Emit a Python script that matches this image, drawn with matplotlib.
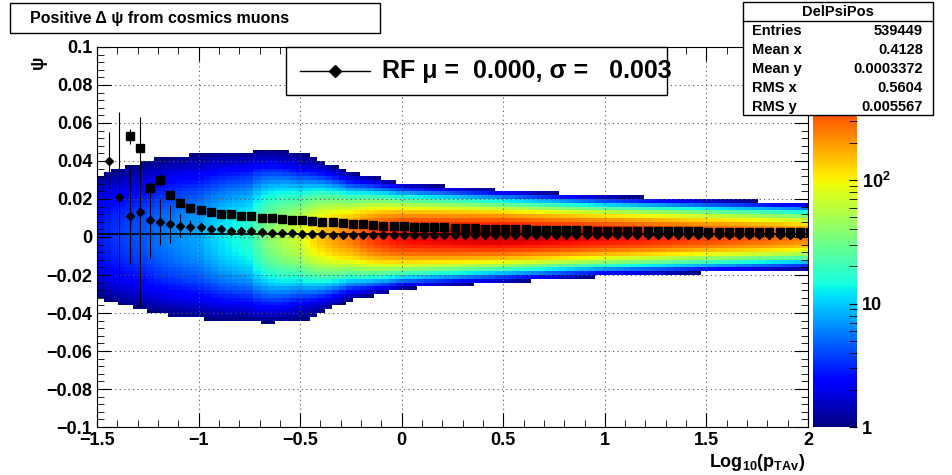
import numpy as np
import matplotlib
matplotlib.use("Agg")
import matplotlib.pyplot as plt
from matplotlib.colors import LogNorm
from matplotlib.patches import Rectangle
from matplotlib.ticker import MultipleLocator

plt.rcParams["font.family"] = ["Liberation Sans", "DejaVu Sans"]
plt.rcParams["mathtext.fontset"] = "custom"
plt.rcParams["mathtext.rm"] = "Liberation Sans:bold"
plt.rcParams["mathtext.it"] = "Liberation Sans:bold"

W, H = 953, 475
# per-column shape parameters
knot_x = [-1.5, -1.25, -1.0, -0.75, -0.5, -0.25, 0.0, 0.5, 1.0, 1.5, 2.0]
core_peak = [1.5, 3, 6, 15, 70, 250, 600, 750, 600, 400, 250]
core_sigma = [0.02, 0.02, 0.018, 0.016, 0.012, 0.009, 0.0075, 0.0065, 0.0058, 0.0055, 0.0052]
tail_amp = [1.3, 1.6, 1.8, 2.0, 2.8, 2.5, 2.2, 1.8, 1.5, 1.3, 1.2]
tail_sigma = [0.025, 0.028, 0.03, 0.03, 0.03, 0.022, 0.016, 0.013, 0.011, 0.01, 0.01]

sq_vals = [np.nan, np.nan, 0.053, 0.047, 0.026, 0.030, 0.022, 0.018, 0.015, 0.014, 0.013, 0.012, 0.012,
           0.011, 0.011, 0.010, 0.010, 0.0095, 0.009, 0.009, 0.0085, 0.008, 0.008, 0.0075, 0.007, 0.007,
           0.0065, 0.006, 0.006, 0.0058, 0.0055, 0.0053, 0.005, 0.005, 0.0048, 0.0046, 0.0045, 0.0044,
           0.0043, 0.0042, 0.004, 0.004, 0.0039, 0.0038, 0.0037, 0.0036, 0.0035, 0.0035, 0.0034, 0.0033,
           0.0033, 0.0032, 0.0032, 0.0031, 0.003, 0.003, 0.003, 0.0029, 0.0029, 0.0028, 0.0028, 0.0027,
           0.0027, 0.0026, 0.0026, 0.0025, 0.0025, 0.0025, 0.0024, 0.0024]
sq_err = [0, 0, 0.004, 0.004, 0.003, 0.003, 0.002, 0.0015, 0.001] + [0.0005] * 61
dm_vals = [0.040, 0.021, 0.011, 0.013, 0.009, 0.008, 0.007, 0.006, 0.005, 0.005, 0.004, 0.004, 0.003,
           0.003, 0.003, 0.0025, 0.0022, 0.002, 0.002, 0.0018, 0.0016, 0.0015] + [0.0012] * 48
dm_err = [0.015, 0.045, 0.025, 0.05, 0.02, 0.012, 0.01, 0.006, 0.004, 0.003, 0.002] + [0.0005] * 59

stats = [("Entries", "539449"), ("Mean x", "0.4128"), ("Mean y", "0.0003372"),
         ("RMS x", "0.5604"), ("RMS y", "0.005567")]

xe = np.linspace(-1.5, 2.0, 101)
ye = np.linspace(-0.1, 0.1, 101)
xc = 0.5 * (xe[1:] + xe[:-1]); yc = 0.5 * (ye[1:] + ye[:-1])
pk = np.interp(xc, knot_x, core_peak); sg = np.interp(xc, knot_x, core_sigma)
ta = np.interp(xc, knot_x, tail_amp); ts = np.interp(xc, knot_x, tail_sigma)
Y = yc[:, None]
Z = pk * np.exp(-0.5 * ((Y - 0.0005) / sg) ** 2) + ta * np.exp(-0.5 * (Y / ts) ** 2)
Z = np.where(Z >= 1, Z, np.nan)

fig = plt.figure(figsize=(W / 100, H / 100), dpi=100)
ax = fig.add_axes([97 / W, 48 / H, 711 / W, 380 / H])
m = ax.pcolormesh(xe, ye, Z, cmap=plt.get_cmap("jet"), norm=LogNorm(1, 1200))
ax.set_xlim(-1.5, 2); ax.set_ylim(-0.1, 0.1)
ax.grid(True, ls=(0, (1, 3)), color="#555555", lw=0.8)
ax.xaxis.set_minor_locator(MultipleLocator(0.1))
ax.yaxis.set_minor_locator(MultipleLocator(0.004))
ax.tick_params(which="both", direction="in", top=True, right=True, labelsize=13)
ax.tick_params(which="major", length=10); ax.tick_params(which="minor", length=5)
ax.set_xticks(np.arange(-1.5, 2.01, 0.5))
ax.set_xticklabels(["\u22121.5", "\u22121", "\u22120.5", "0", "0.5", "1", "1.5", "2"], fontweight="bold")
ax.set_yticks(np.round(np.arange(-0.1, 0.101, 0.02), 3))
ax.set_yticklabels(["\u22120.1", "\u22120.08", "\u22120.06", "\u22120.04", "\u22120.02", "0", "0.02", "0.04",
                    "0.06", "0.08", "0.1"], fontweight="bold")

ax.axhline(0.0018, color="black", lw=1.2)
xs = -1.44 + 0.05 * np.arange(len(sq_vals))
ax.errorbar(xs, sq_vals, yerr=sq_err, fmt="s", color="black", ms=6, lw=0.8, capsize=0)
xd = -1.44 + 0.05 * np.arange(len(dm_vals))
ax.errorbar(xd, dm_vals, yerr=dm_err, fmt="D", color="black", ms=4.5, lw=0.8, capsize=0)

cax = fig.add_axes([813 / W, 48 / H, 44 / W, 380 / H])
cb = fig.colorbar(m, cax=cax)
cb.outline.set_visible(False)
cax.tick_params(which="both", direction="in", labelsize=13, length=6)
cax.set_yticks([1, 10, 100]); cax.set_yticklabels(["1", "10", "$10^{2}$"], fontweight="bold")

fig.text(805 / W, 2 / H, "Log$_{10}$(p$_{TAv}$)", ha="right", va="bottom", fontsize=13, fontweight="bold")
fig.text(38 / W, 1 - 62 / H, "\u03c8", ha="center", va="center", fontsize=13, fontweight="bold", rotation=90)

def box(x0, y0, x1, y1):
    fig.add_artist(Rectangle((x0 / W, 1 - y1 / H), (x1 - x0) / W, (y1 - y0) / H, transform=fig.transFigure,
                             facecolor="white", edgecolor="black", lw=1, zorder=5))

box(10, 3, 380, 33)
fig.text(30 / W, 1 - 19 / H, "Positive \u0394 \u03c8 from cosmics muons", fontsize=11.5, fontweight="bold", va="center", zorder=6)
box(286, 47, 667, 95)
fig.add_artist(plt.Line2D([300 / W, 370 / W], [1 - 71 / H] * 2, color="black", lw=1, zorder=6))
fig.add_artist(plt.Line2D([335 / W], [1 - 71 / H], color="black", marker="D", ms=6, zorder=6))
fig.text(382 / W, 1 - 71 / H, "RF \u03bc =  0.000, \u03c3 =   0.003", fontsize=18, fontweight="bold", va="center", zorder=6)
box(743, 2, 933, 115)
fig.text(838 / W, 1 - 12 / H, "DelPsiPos", fontsize=10.5, fontweight="bold", ha="center", va="center", zorder=6)
fig.add_artist(plt.Line2D([743 / W, 933 / W], [1 - 21 / H] * 2, color="black", lw=1, zorder=6))
for i, (k, v) in enumerate(stats):
    yy = 1 - (31 + 19 * i) / H
    fig.text(752 / W, yy, k, fontsize=10.5, fontweight="bold", va="center", zorder=6)
    fig.text(923 / W, yy, v, fontsize=10.5, fontweight="bold", va="center", ha="right", zorder=6)

fig.savefig("out.png", dpi=100)
